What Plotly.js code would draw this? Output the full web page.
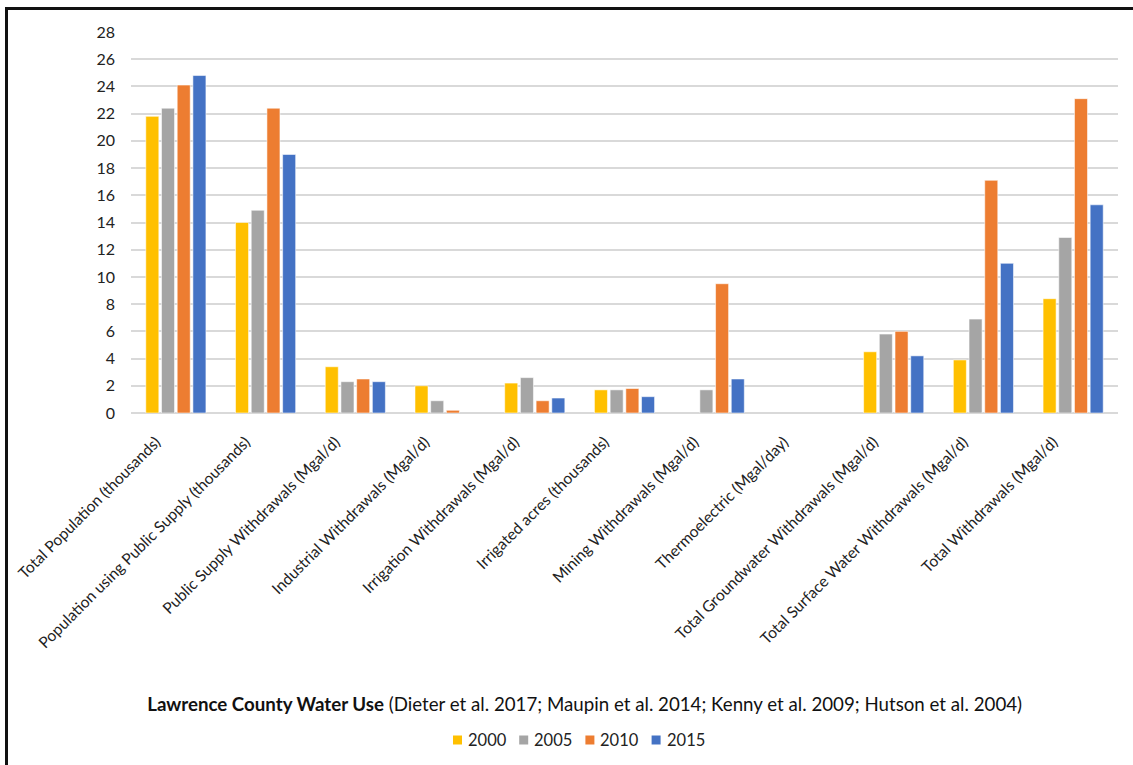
<!DOCTYPE html>
<html>
<head>
<meta charset="utf-8">
<script src="https://cdn.plot.ly/plotly-3.0.1.min.js"></script>
<style>
  html, body { margin: 0; padding: 0; background: #fff; }
  #frame {
    position: absolute; left: 5px; top: 7px; width: 1128px; height: 758px;
    border-left: 3px solid #111; border-top: 3px solid #111; box-sizing: border-box;
    pointer-events: none; z-index: 10;
  }
  #chart { width: 1133px; height: 765px; }
</style>
</head>
<body>
<div id="frame"></div>
<div id="chart"></div>
<script>
// Water-use categories (x axis)
const categories = [
  "Total Population (thousands)",
  "Population using Public Supply (thousands)",
  "Public Supply Withdrawals (Mgal/d)",
  "Industrial Withdrawals (Mgal/d)",
  "Irrigation Withdrawals (Mgal/d)",
  "Irrigated acres (thousands)",
  "Mining Withdrawals (Mgal/d)",
  "Thermoelectric (Mgal/day)",
  "Total Groundwater Withdrawals (Mgal/d)",
  "Total Surface Water Withdrawals (Mgal/d)",
  "Total Withdrawals (Mgal/d)"
];

// Values per survey year (null = no value reported)
const values2000 = [21.8, 14.0, 3.4, 2.0, 2.2, 1.7, null, null, 4.5, 3.9, 8.4];
const values2005 = [22.4, 14.9, 2.3, 0.9, 2.6, 1.7, 1.7, null, 5.8, 6.9, 12.9];
const values2010 = [24.1, 22.4, 2.5, 0.2, 0.9, 1.8, 9.5, null, 6.0, 17.1, 23.1];
const values2015 = [24.8, 19.0, 2.3, null, 1.1, 1.2, 2.5, null, 4.2, 11.0, 15.3];

const seriesNames = ["2000", "2005", "2010", "2015"];
const seriesColors = ["#FFC000", "#A5A5A5", "#ED7D31", "#4472C4"];
const seriesValues = [values2000, values2005, values2010, values2015];

const yTicks = [0, 2, 4, 6, 8, 10, 12, 14, 16, 18, 20, 22, 24, 26, 28];

const FONT = "Lato, 'Open Sans', sans-serif";

// Page and plot-area geometry (pixels)
const W = 1133, H = 765;
const M = { l: 131, r: 15, t: 32, b: 352 };
const plotW = W - M.l - M.r, plotH = H - M.t - M.b;
const px2x = px => (px - M.l) / plotW;
const px2y = py => (H - M.b - py) / plotH;

const traces = seriesNames.map((name, i) => ({
  type: "bar",
  name: name,
  x: categories,
  y: seriesValues[i],
  marker: {
    color: seriesColors[i],
    line: { color: "rgba(255,255,255,0.55)", width: 1 }
  },
  showlegend: false,
  hoverinfo: "x+y+name"
}));

// Legend row below the title: small square swatch followed by the year
const legendStart = 453, legendStep = 66.2, legendY = 740, sw = 9;
const legendShapes = seriesNames.map((name, i) => ({
  type: "rect", xref: "paper", yref: "paper",
  x0: px2x(legendStart + i * legendStep), x1: px2x(legendStart + i * legendStep + sw),
  y0: px2y(legendY - sw / 2), y1: px2y(legendY + sw / 2),
  fillcolor: seriesColors[i], line: { width: 0 }
}));
const legendLabels = seriesNames.map((name, i) => ({
  xref: "paper", yref: "paper",
  x: px2x(legendStart + i * legendStep + sw + 4), xanchor: "left",
  y: px2y(legendY), yanchor: "middle",
  text: name, showarrow: false,
  font: { family: FONT, size: 16.5, color: "#222222" }
}));

const layout = {
  width: W,
  height: H,
  paper_bgcolor: "#ffffff",
  plot_bgcolor: "#ffffff",
  margin: M,
  barmode: "group",
  bargap: 0.3,
  bargroupgap: 0.17,
  font: { family: FONT, size: 15, color: "#333333" },
  title: {
    text: "<b>Lawrence County Water Use</b> (Dieter et al. 2017; Maupin et al. 2014; Kenny et al. 2009; Hutson et al. 2004)",
    font: { family: FONT, size: 18.7, color: "#111111" },
    xref: "container", yref: "container",
    x: 0.516, xanchor: "center",
    y: 1 - 704 / H, yanchor: "middle"
  },
  xaxis: {
    type: "category",
    tickangle: -45,
    tickfont: { family: FONT, size: 15.6, color: "#222222" },
    ticklabelshift: -20,
    ticklabelstandoff: 16,
    showgrid: false,
    showline: false,
    zeroline: false,
    ticks: ""
  },
  yaxis: {
    range: [0, 28],
    tickvals: yTicks,
    ticktext: yTicks.map(String),
    tickfont: { family: FONT, size: 16, color: "#222222" },
    showgrid: true,
    gridcolor: "#D9D9D9",
    gridwidth: 2,
    zeroline: true,
    zerolinecolor: "#D9D9D9",
    zerolinewidth: 2,
    showline: false,
    ticks: "",
    ticklabelstandoff: 15
  },
  showlegend: false,
  shapes: legendShapes,
  annotations: legendLabels
};

Plotly.newPlot("chart", traces, layout, { displayModeBar: false, staticPlot: true });
</script>
</body>
</html>
